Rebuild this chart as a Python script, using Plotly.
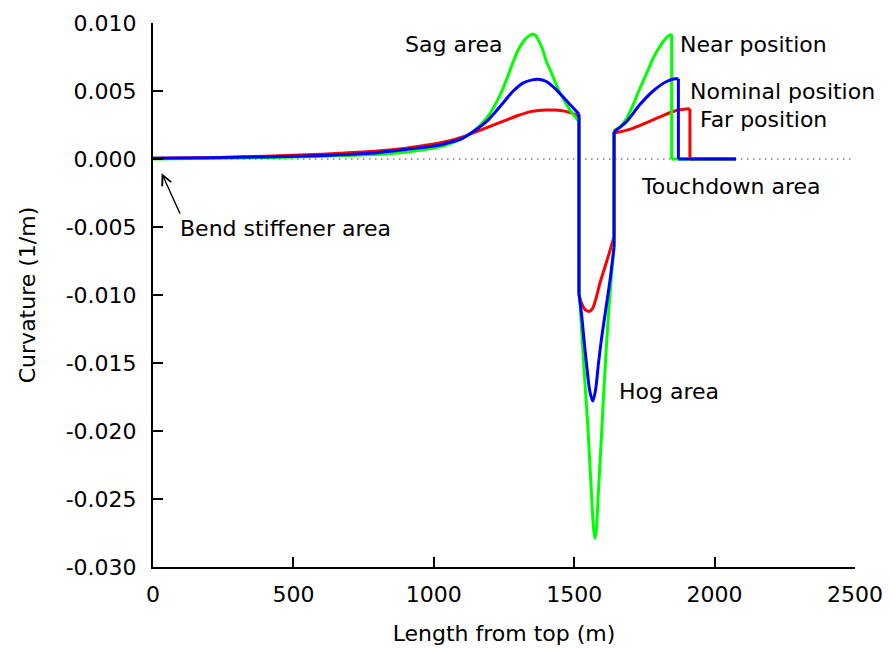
import plotly.graph_objects as go

# Curvature along the riser for three vessel offsets (length from top in m, curvature in 1/m).
# Repeated x values mark the step changes at the sag/hog boundaries and at touchdown.
far_x = [0, 200, 400, 600, 808, 900, 1000, 1050, 1100, 1150, 1200, 1250, 1300, 1350,
         1400, 1430, 1470, 1500, 1517,
         1517, 1526, 1540, 1554, 1565, 1577, 1592, 1610, 1625, 1642,
         1642, 1700, 1760, 1805, 1840, 1870, 1912,
         1912, 2076]
far_y = [0.00005, 0.0001, 0.0002, 0.00035, 0.0006, 0.0008, 0.0011, 0.0013, 0.0016, 0.0020, 0.0024, 0.0028, 0.0032, 0.0035,
         0.0036, 0.0036, 0.0035, 0.0033, 0.0031,
         -0.0100, -0.0106, -0.0111, -0.0112, -0.0110, -0.0103, -0.0091, -0.0079, -0.0069, -0.0057,
         0.0019, 0.0022, 0.0027, 0.0031, 0.0034, 0.0036, 0.0037,
         0.0, 0.0]

near_x = [0, 200, 400, 600, 808, 900, 1000, 1046, 1100, 1140, 1188, 1236, 1260, 1283, 1300,
          1319, 1335, 1351, 1362, 1372, 1385, 1401, 1420, 1436, 1454, 1470, 1485, 1500, 1517,
          1517, 1528, 1538, 1548, 1556, 1563, 1569, 1574, 1579, 1586, 1595, 1603, 1612, 1621, 1631, 1642,
          1642, 1665, 1687, 1710, 1734, 1760, 1781, 1800, 1817, 1832, 1847,
          1847, 2076]
near_y = [0.0, 0.00005, 0.0001, 0.0002, 0.00035, 0.0005, 0.0008, 0.00104, 0.0015, 0.0020, 0.0030, 0.0047, 0.0059, 0.00717, 0.0080,
          0.00864, 0.0090, 0.00918, 0.0091, 0.00876, 0.0082, 0.00717, 0.0063, 0.00546, 0.0047, 0.0041, 0.0036, 0.0032, 0.00276,
          -0.0095, -0.0130, -0.0164, -0.0195, -0.0225, -0.0252, -0.0272, -0.0279, -0.0272, -0.0245, -0.0212, -0.0180, -0.0147, -0.0117, -0.0090, -0.0062,
          0.0021, 0.0024, 0.0030, 0.0040, 0.0052, 0.0064, 0.0074, 0.0081, 0.00864, 0.0090, 0.00918,
          0.0, 0.0]

nominal_x = [0, 200, 400, 600, 808, 900, 1000, 1046, 1100, 1140, 1188, 1236, 1283, 1319, 1351,
             1372, 1401, 1436, 1454, 1485, 1517,
             1517, 1526, 1535, 1544, 1555, 1566, 1576, 1586, 1598, 1610, 1627, 1642,
             1642, 1687, 1734, 1781, 1829, 1859, 1871,
             1871, 2076]
nominal_y = [0.00005, 0.0001, 0.00015, 0.00025, 0.00048, 0.0007, 0.00095, 0.00116, 0.0015, 0.0020, 0.00276, 0.00386, 0.0050, 0.0056, 0.00582,
             0.00587, 0.0057, 0.0051, 0.0047, 0.0040, 0.0033,
             -0.0099, -0.0114, -0.0133, -0.0151, -0.0170, -0.0178, -0.0170, -0.0151, -0.0131, -0.0114, -0.0090, -0.0065,
             0.0020, 0.00276, 0.0040, 0.0050, 0.0057, 0.0059, 0.0059,
             0.0, 0.0]

x_ticks = [0, 500, 1000, 1500, 2000, 2500]
x_tick_labels = ["0", "500", "1000", "1500", "2000", "2500"]
y_ticks = [0.010, 0.005, 0.0, -0.005, -0.010, -0.015, -0.020, -0.025, -0.030]
y_tick_labels = ["0.010", "0.005", "0.000", "-0.005", "-0.010", "-0.015", "-0.020", "-0.025", "-0.030"]

FONT = "DejaVu Sans"
FS = 22


def split_segments(xs, ys):
    """Split a series at repeated x values: smooth pieces plus the vertical steps."""
    pieces, steps = [], []
    cur_x, cur_y = [xs[0]], [ys[0]]
    for i in range(1, len(xs)):
        if xs[i] == xs[i - 1]:
            pieces.append((cur_x, cur_y))
            steps.append((xs[i - 1], ys[i - 1], ys[i]))
            cur_x, cur_y = [xs[i]], [ys[i]]
        else:
            cur_x.append(xs[i])
            cur_y.append(ys[i])
    pieces.append((cur_x, cur_y))
    return pieces, steps


fig = go.Figure()
for name, xs, ys, color in [
    ("Far position", far_x, far_y, "#ff0000"),
    ("Near position", near_x, near_y, "#00ff00"),
    ("Nominal position", nominal_x, nominal_y, "#0000ff"),
]:
    pieces, steps = split_segments(xs, ys)
    sx, sy = [], []
    for x0, ya, yb in steps:
        sx += [x0, x0, None]
        sy += [ya, yb, None]
    fig.add_trace(go.Scatter(x=sx, y=sy, mode="lines", name=name, showlegend=False,
                             line=dict(color=color, width=3), hoverinfo="skip"))
    for px, py in pieces:
        shape = "spline" if len(px) > 2 else "linear"
        fig.add_trace(go.Scatter(x=px, y=py, mode="lines", name=name, showlegend=False,
                                 line=dict(color=color, width=3, shape=shape, smoothing=0.8)))

# dotted zero reference
fig.add_shape(type="line", xref="x", yref="y", x0=0, x1=2500, y0=0, y1=0,
              line=dict(color="#808080", width=1.5, dash="1.5px,4.5px"), layer="below")


def label(text, x, y, xanchor="left"):
    fig.add_annotation(text=text, x=x, y=y, xref="x", yref="y", showarrow=False,
                       xanchor=xanchor, yanchor="middle",
                       font=dict(family=FONT, size=FS, color="black"))


label("Sag area", 891, 0.0084)
label("Near position", 1870, 0.0084)
label("Nominal position", 1905, 0.0050)
label("Far position", 1942, 0.0029)
label("Touchdown area", 1732, -0.0020)
label("Hog area", 1653, -0.0171)
label("Bend stiffener area", 90, -0.0051)

fig.add_annotation(text="", x=31, y=-0.00104, xref="x", yref="y",
                   ax=19, ay=42, axref="pixel", ayref="pixel",
                   showarrow=True, arrowhead=5, arrowsize=1.5, arrowwidth=1.3,
                   arrowcolor="black", standoff=0)

axis_common = dict(showline=True, linecolor="black", linewidth=2, ticks="inside",
                   ticklen=10, tickwidth=1.5, tickcolor="black", showgrid=False,
                   zeroline=False, mirror=False, automargin=False,
                   tickfont=dict(family=FONT, size=FS, color="black"))

fig.update_xaxes(range=[0, 2500], tickvals=x_ticks, ticktext=x_tick_labels,
                 ticklabelstandoff=7,
                 title=dict(text="Length from top (m)", font=dict(family=FONT, size=FS, color="black"),
                            standoff=19),
                 **axis_common)
fig.update_yaxes(range=[-0.030, 0.010], tickvals=y_ticks, ticktext=y_tick_labels,
                 ticklabelstandoff=10,
                 title=dict(text="Curvature (1/m)", font=dict(family=FONT, size=FS, color="black"),
                            standoff=24),
                 **axis_common)

fig.update_layout(width=891, height=649, autosize=False,
                  margin=dict(l=153, r=36, t=23, b=82),
                  plot_bgcolor="white", paper_bgcolor="white",
                  font=dict(family=FONT, size=FS, color="black"))

fig.write_html("out.html")
